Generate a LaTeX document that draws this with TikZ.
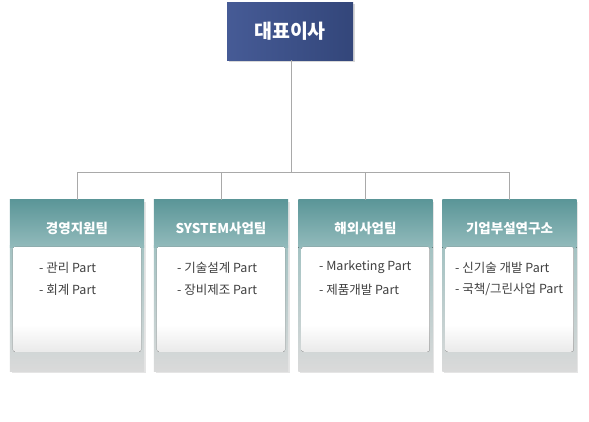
\documentclass[tikz,border=0pt]{standalone}
\usepackage{fontspec}
\setmainfont{Noto Sans CJK KR}
\usetikzlibrary{shadows,calc}
\definecolor{navyA}{HTML}{465B96}
\definecolor{navyB}{HTML}{33467A}
\definecolor{tealA}{HTML}{5B9698}
\definecolor{tealB}{HTML}{93BBBC}
\definecolor{sideA}{HTML}{A3C2C2}
\definecolor{sideB}{HTML}{DADADA}
\definecolor{panelB}{HTML}{EAEAEA}
\definecolor{linegray}{HTML}{A9A9A9}
\definecolor{itemtext}{HTML}{404040}
\pgfdeclareverticalshading{panelshade}{100bp}{color(0bp)=(panelB); color(25bp)=(panelB); color(38bp)=(white); color(100bp)=(white)}
\tikzset{
  conn/.style={draw=linegray, line width=1pt},
  topbox/.style={minimum width=126pt, minimum height=58pt, inner sep=0pt,
    left color=navyA, right color=navyB,
    drop shadow={opacity=0.3, shadow xshift=1.5pt, shadow yshift=-2pt},
    text=white, font=\fontsize{19.5}{22}\selectfont\bfseries},
  deptbox/.style={minimum width=134pt, minimum height=171pt, inner sep=0pt,
    fill=sideB,
    drop shadow={opacity=0.2, shadow xshift=1.5pt, shadow yshift=-2pt}},
  head/.style={text=white, font=\fontsize{13.5}{15}\selectfont\bfseries, inner sep=0pt},
  item/.style={text=itemtext, font=\fontsize{12.5}{14}\selectfont, inner sep=0pt, anchor=west},
}
\newcommand{\mkdept}[6]{%
  \node[deptbox] (#1) at (#2,285.5) {};
  \fill[top color=sideA, bottom color=sideB] ($(#1.north west)+(0,46)$) rectangle (#1.south east);
  \fill[top color=tealA, bottom color=tealB] (#1.north west) rectangle ($(#1.north east)+(0,48)$);
  \fill[shading=panelshade, rounded corners=2.5pt] ($(#1.north west)+(3,47)$) rectangle ($(#1.north east)+(-3,152)$);
  \node[head] (#1t) at (#2,228) {#3};
  \node[item] (#1a) at (#6,267.5) {- #4};
  \node[item] (#1b) at (#6,289.5) {- #5};
}
\begin{document}
\begin{tikzpicture}[x=1pt,y=-1pt]
\useasboundingbox (0,0) rectangle (589,421);
\fill[white] (0,0) rectangle (589,421);
\coordinate (bus) at (291,172.5);
\node[topbox] (ceo) at (290,31) {대표이사};
\mkdept{d1}{77}{경영지원팀}{관리 Part}{회계 Part}{39}
\mkdept{d2}{221}{SYSTEM사업팀}{기술설계 Part}{장비제조 Part}{177}
\mkdept{d3}{365.5}{해외사업팀}{Marketing Part}{제품개발 Part}{319}
\mkdept{d4}{509.5}{기업부설연구소}{신기술 개발 Part}{국책/그린사업 Part}{455}
\draw[conn] (ceo.south -| bus) -- (bus);
\draw[conn] (d1.north) |- (bus) -| (d4.north);
\draw[conn] (d2.north) -- (d2.north |- bus);
\draw[conn] (d3.north) -- (d3.north |- bus);
\end{tikzpicture}
\end{document}
